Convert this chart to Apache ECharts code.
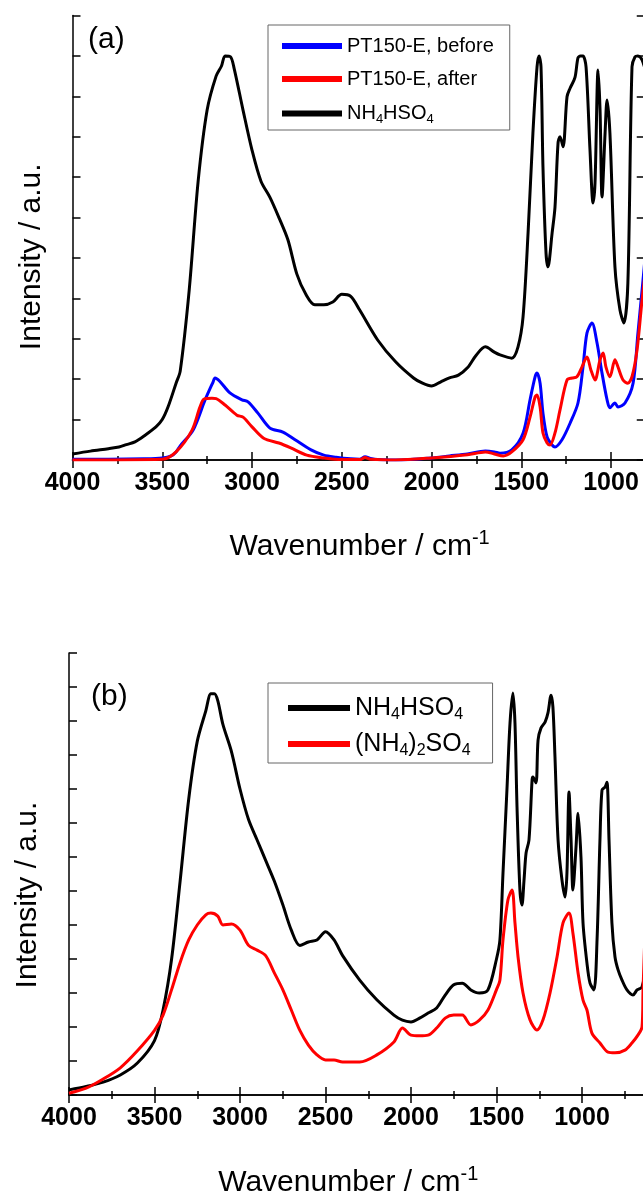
<!DOCTYPE html>
<html><head><meta charset="utf-8">
<script src="https://cdn.jsdelivr.net/npm/echarts@6/dist/echarts.min.js"></script>
<style>html,body{margin:0;padding:0;background:#fff}#c{width:643px;height:1201px}</style>
</head><body><div id="c"></div>
<script>
// ---------- Panel (a) data ----------
const aBlackWn = [4000,3900,3800,3741,3700,3652,3600,3535,3500,3468,3423,3400,3350,3300,3250,3200,3170,3150,3120,3100,3050,3000,2950,2900,2850,2800,2750,2700,2650,2600,2550,2500,2450,2400,2300,2200,2100,2050,2000,1950,1900,1850,1800,1750,1700,1650,1618,1553,1518,1490,1462,1435,1412,1401,1390,1379,1362,1351,1328,1312,1295,1284,1267,1245,1228,1201,1184,1170,1156,1139,1117,1100,1089,1072,1061,1050,1033,1022,1006,978,950,928,906,883,866,850,827,800];
const aBlackI  = [0.15,0.22,0.28,0.32,0.38,0.45,0.6,0.82,1.0,1.31,1.9,2.2,4.2,6.9,8.66,9.5,9.75,10.0,9.98,9.7,8.66,7.67,6.9,6.5,6.0,5.45,4.6,4.1,3.84,3.84,3.91,4.1,4.05,3.71,2.97,2.43,2.03,1.9,1.83,1.93,2.03,2.1,2.28,2.6,2.8,2.67,2.6,2.52,2.8,3.54,5.62,8.09,9.73,10.0,9.73,7.25,5.12,4.78,5.62,6.26,7.85,8.0,7.75,8.99,9.2,9.46,9.95,10.0,10.0,9.73,7.67,6.36,6.86,9.65,8.66,6.51,8.09,8.91,8.09,4.78,3.71,3.39,4.38,9.73,9.98,10.0,9.9,9.5];
const aBlueWn = [4000,3800,3600,3500,3450,3423,3400,3328,3261,3217,3206,3180,3123,3056,3022,2967,2900,2828,2760,2671,2600,2532,2450,2400,2370,2340,2300,2200,2100,2000,1900,1800,1700,1650,1618,1553,1490,1451,1423,1412,1395,1379,1356,1328,1312,1273,1228,1184,1156,1134,1106,1078,1050,1022,1006,978,961,922,877,850,827,800];
const aBlueI  = [0.02,0.02,0.03,0.05,0.1,0.2,0.35,0.74,1.49,1.93,2.03,1.95,1.66,1.49,1.44,1.16,0.79,0.69,0.5,0.25,0.12,0.07,0.03,0.02,0.08,0.04,0.01,0.0,0.02,0.05,0.1,0.15,0.22,0.2,0.17,0.25,0.66,1.49,2.06,2.15,1.9,1.16,0.57,0.37,0.32,0.5,0.91,1.41,2.3,3.14,3.39,2.9,2.15,1.49,1.29,1.41,1.31,1.41,1.9,3.14,4.2,5.5];
const aRedWn = [4000,3500,3423,3334,3290,3267,3223,3200,3150,3084,3050,3000,2935,2850,2784,2695,2600,2500,2400,2370,2340,2200,2000,1800,1700,1650,1600,1553,1490,1451,1423,1412,1395,1379,1356,1340,1312,1284,1245,1217,1190,1162,1134,1112,1089,1061,1044,1028,1006,978,961,933,906,883,855,827,800];
const aRedI  = [0.0,0.02,0.2,0.74,1.31,1.51,1.53,1.52,1.36,1.11,1.06,0.82,0.54,0.42,0.3,0.12,0.05,0.01,0.01,0.06,0.02,0.0,0.05,0.13,0.2,0.15,0.1,0.2,0.5,1.06,1.56,1.61,1.31,0.67,0.42,0.37,0.67,1.24,1.98,2.03,2.06,2.3,2.55,2.23,1.98,2.48,2.65,2.3,2.06,2.48,2.3,1.98,1.9,2.06,2.72,3.96,5.0];

// ---------- Panel (b) data ----------
const bBlackWn = [4000,3900,3800,3700,3600,3500,3450,3400,3350,3300,3250,3200,3170,3150,3130,3100,3050,3000,2950,2900,2850,2800,2750,2700,2650,2600,2550,2500,2450,2400,2300,2200,2100,2050,2000,1950,1900,1850,1800,1750,1700,1650,1600,1550,1500,1480,1462,1439,1421,1404,1392,1380,1363,1351,1339,1327,1310,1292,1287,1269,1257,1240,1216,1199,1181,1170,1158,1140,1117,1099,1088,1076,1064,1053,1035,1023,1006,994,971,953,930,912,895,883,865,854,842,825,807,789,766,737,702,678,649,620];
const bBlackI  = [0.15,0.25,0.38,0.59,0.94,1.6,2.5,4.0,6.3,8.7,10.4,11.3,11.8,11.8,11.6,10.9,10.1,9.0,8.1,7.5,6.9,6.3,5.6,4.85,4.4,4.5,4.56,4.8,4.56,4.1,3.38,2.8,2.35,2.2,2.15,2.26,2.41,2.56,2.94,3.24,3.29,3.09,3.0,3.09,4.0,4.56,6.53,8.97,10.94,11.82,10.94,8.47,6.03,5.59,6.32,7.12,7.5,9.26,9.35,9.18,10.44,10.79,10.97,11.24,11.76,11.41,9.94,7.5,6.32,5.82,6.53,8.91,7.5,6.03,7.29,8.29,7.0,5.06,3.88,3.29,3.09,4.56,7.5,8.97,9.06,9.2,7.5,5.06,4.06,3.68,3.38,3.09,2.94,3.09,3.18,4.0];
const bRedWn = [4000,3900,3800,3700,3600,3500,3450,3400,3350,3300,3250,3200,3170,3130,3100,3050,3000,2950,2900,2850,2800,2750,2700,2650,2600,2550,2500,2450,2400,2300,2200,2100,2050,2000,1950,1900,1850,1800,1750,1700,1650,1600,1550,1500,1480,1462,1433,1409,1392,1374,1345,1304,1263,1228,1187,1146,1111,1076,1053,1023,994,971,942,895,848,807,749,708,673,649,643,630];
const bRedI  = [0.05,0.2,0.47,0.8,1.3,1.9,2.35,3.1,3.9,4.56,5.0,5.3,5.35,5.26,5.0,5.03,4.85,4.4,4.26,4.1,3.6,3.1,2.5,1.9,1.47,1.18,1.03,1.03,0.97,0.97,1.18,1.56,1.97,1.76,1.74,1.76,1.97,2.26,2.35,2.35,2.06,2.2,2.5,3.1,3.38,4.56,5.74,6.03,5.06,4.06,3.0,2.21,1.91,2.21,3.0,4.06,5.06,5.35,4.76,3.59,2.79,2.5,1.82,1.53,1.26,1.24,1.32,1.53,1.76,2.0,3.1,5.0];

const X_MIN = 500, X_MAX = 4000, X_STEP = 500;
const xTickLabels = ['4000','3500','3000','2500','2000','1500','1000'];
const pairs = (wn, v) => wn.map((w, i) => [w, v[i]]);

const FONT = 'Liberation Sans, Arial, sans-serif';
const axLine = {lineStyle:{color:'#000', width:1.5}};
const rich = {
  sub:{fontFamily:FONT, fontSize:13, lineHeight:13, padding:[12,0,0,0], color:'#000'},
  sup:{fontFamily:FONT, fontSize:20, lineHeight:20, padding:[0,0,18,0], color:'#000'}
};
const legendNames = {
  'PT150-E, before':'PT150-E, before',
  'PT150-E, after':'PT150-E, after',
  'NH4HSO4 a':'NH{sub|4}HSO{sub|4}',
  'NH4HSO4 b':'NH{sub|4}HSO{sub|4}',
  '(NH4)2SO4':'(NH{sub|4}){sub|2}SO{sub|4}'
};

function xAxes(grid) {
  const common = {gridIndex:grid, type:'value', min:X_MIN, max:X_MAX, interval:X_STEP, inverse:true,
    axisLine:axLine, splitLine:{show:false},
    axisTick:{inside:true, length:8, lineStyle:{color:'#000', width:1.5}},
    minorTick:{show:true, splitNumber:2, length:4, lineStyle:{color:'#000', width:1.5}}};
  return [
    Object.assign({}, common, {position:'bottom',
      axisLabel:{show:true, fontFamily:FONT, fontWeight:'bold', fontSize:25, color:'#000', margin:11,
        formatter:v => xTickLabels.includes(String(v)) ? String(v) : ''},
      name:'Wavenumber / cm{sup|-1}', nameLocation:'middle', nameGap:grid===0?72:73,
      nameTextStyle:{fontFamily:FONT, fontSize:30, color:'#000', rich:rich, padding:[0, grid===0?54:40, 0, 0]}}),
    Object.assign({}, common, {position:'top', axisLabel:{show:false}})
  ];
}

const chart = echarts.init(document.getElementById('c'), null, {renderer:'canvas'});
chart.setOption({
  animation:false,
  backgroundColor:'#fff',
  grid:[
    {left:72.5, top:15.5, width:(X_MAX-X_MIN)*0.1795, height:444.5, containLabel:false, outerBoundsMode:'none'},
    {left:69, top:653, width:(X_MAX-X_MIN)*0.171, height:442, containLabel:false, outerBoundsMode:'none'}
  ],
  xAxis: xAxes(0).concat(xAxes(1)),
  yAxis:[
    {gridIndex:0, type:'value', min:0, max:11, interval:1, position:'left', axisLine:axLine,
     axisTick:{inside:true, length:8, lineStyle:{color:'#000', width:1.5}}, axisLabel:{show:false}, splitLine:{show:false},
     name:'Intensity / a.u.', nameLocation:'middle', nameGap:26, nameRotate:90,
     nameTextStyle:{fontFamily:FONT, fontSize:30, color:'#000', padding:[0,38,0,0]}},
    {gridIndex:0, type:'value', min:0, max:11, interval:1, position:'right', offset:-57, axisLine:{show:false},
     axisTick:{inside:true, length:7, lineStyle:{color:'#000', width:1.5}}, axisLabel:{show:false}, splitLine:{show:false}},
    {gridIndex:1, type:'value', min:0, max:13, interval:1, position:'left', axisLine:axLine,
     axisTick:{inside:true, length:8, lineStyle:{color:'#000', width:1.5}}, axisLabel:{show:false}, splitLine:{show:false},
     name:'Intensity / a.u.', nameLocation:'middle', nameGap:26, nameRotate:90,
     nameTextStyle:{fontFamily:FONT, fontSize:30, color:'#000', padding:[0,42,0,0]}},
    {gridIndex:1, type:'value', min:0, max:13, interval:1, position:'right', axisLine:{show:false},
     axisTick:{inside:true, length:7, lineStyle:{color:'#000', width:1.5}}, axisLabel:{show:false}, splitLine:{show:false}}
  ],
  legend:[
    {orient:'vertical', left:268, top:25, padding:[10,16,4,14], itemGap:11, itemWidth:60, itemHeight:6, icon:'rect',
     borderColor:'#666', borderWidth:1, selectedMode:false,
     data:['PT150-E, before','PT150-E, after','NH4HSO4 a'],
     formatter:n => legendNames[n],
     textStyle:{fontFamily:FONT, fontSize:20, color:'#000', lineHeight:22, rich:rich}},
    {orient:'vertical', left:268, top:683, padding:[10,22,4,20], itemGap:6, itemWidth:62, itemHeight:6, icon:'rect',
     borderColor:'#666', borderWidth:1, selectedMode:false,
     data:['NH4HSO4 b','(NH4)2SO4'],
     formatter:n => legendNames[n],
     textStyle:{fontFamily:FONT, fontSize:25, color:'#000', lineHeight:26, rich:{
       sub:{fontFamily:FONT, fontSize:16, lineHeight:16, padding:[14,0,0,0], color:'#000'}}}}
  ],
  graphic:[
    {type:'text', left:88, top:25, style:{text:'(a)', font:'30px '+FONT, fill:'#000'}},
    {type:'text', left:91, top:682, style:{text:'(b)', font:'30px '+FONT, fill:'#000'}}
  ],
  series:[
    {name:'NH4HSO4 a', type:'line', xAxisIndex:0, yAxisIndex:0, data:pairs(aBlackWn,aBlackI), showSymbol:false, smooth:0.3, lineStyle:{color:'#000', width:3}, itemStyle:{color:'#000'}},
    {name:'PT150-E, before', type:'line', xAxisIndex:0, yAxisIndex:0, data:pairs(aBlueWn,aBlueI), showSymbol:false, smooth:0.3, lineStyle:{color:'#0000ff', width:3}, itemStyle:{color:'#0000ff'}},
    {name:'PT150-E, after', type:'line', xAxisIndex:0, yAxisIndex:0, data:pairs(aRedWn,aRedI), showSymbol:false, smooth:0.3, lineStyle:{color:'#ff0000', width:3}, itemStyle:{color:'#ff0000'}},
    {name:'NH4HSO4 b', type:'line', xAxisIndex:2, yAxisIndex:2, data:pairs(bBlackWn,bBlackI), showSymbol:false, smooth:0.3, lineStyle:{color:'#000', width:3}, itemStyle:{color:'#000'}},
    {name:'(NH4)2SO4', type:'line', xAxisIndex:2, yAxisIndex:2, data:pairs(bRedWn,bRedI), showSymbol:false, smooth:0.3, lineStyle:{color:'#ff0000', width:3}, itemStyle:{color:'#ff0000'}}
  ]
});
</script></body></html>
